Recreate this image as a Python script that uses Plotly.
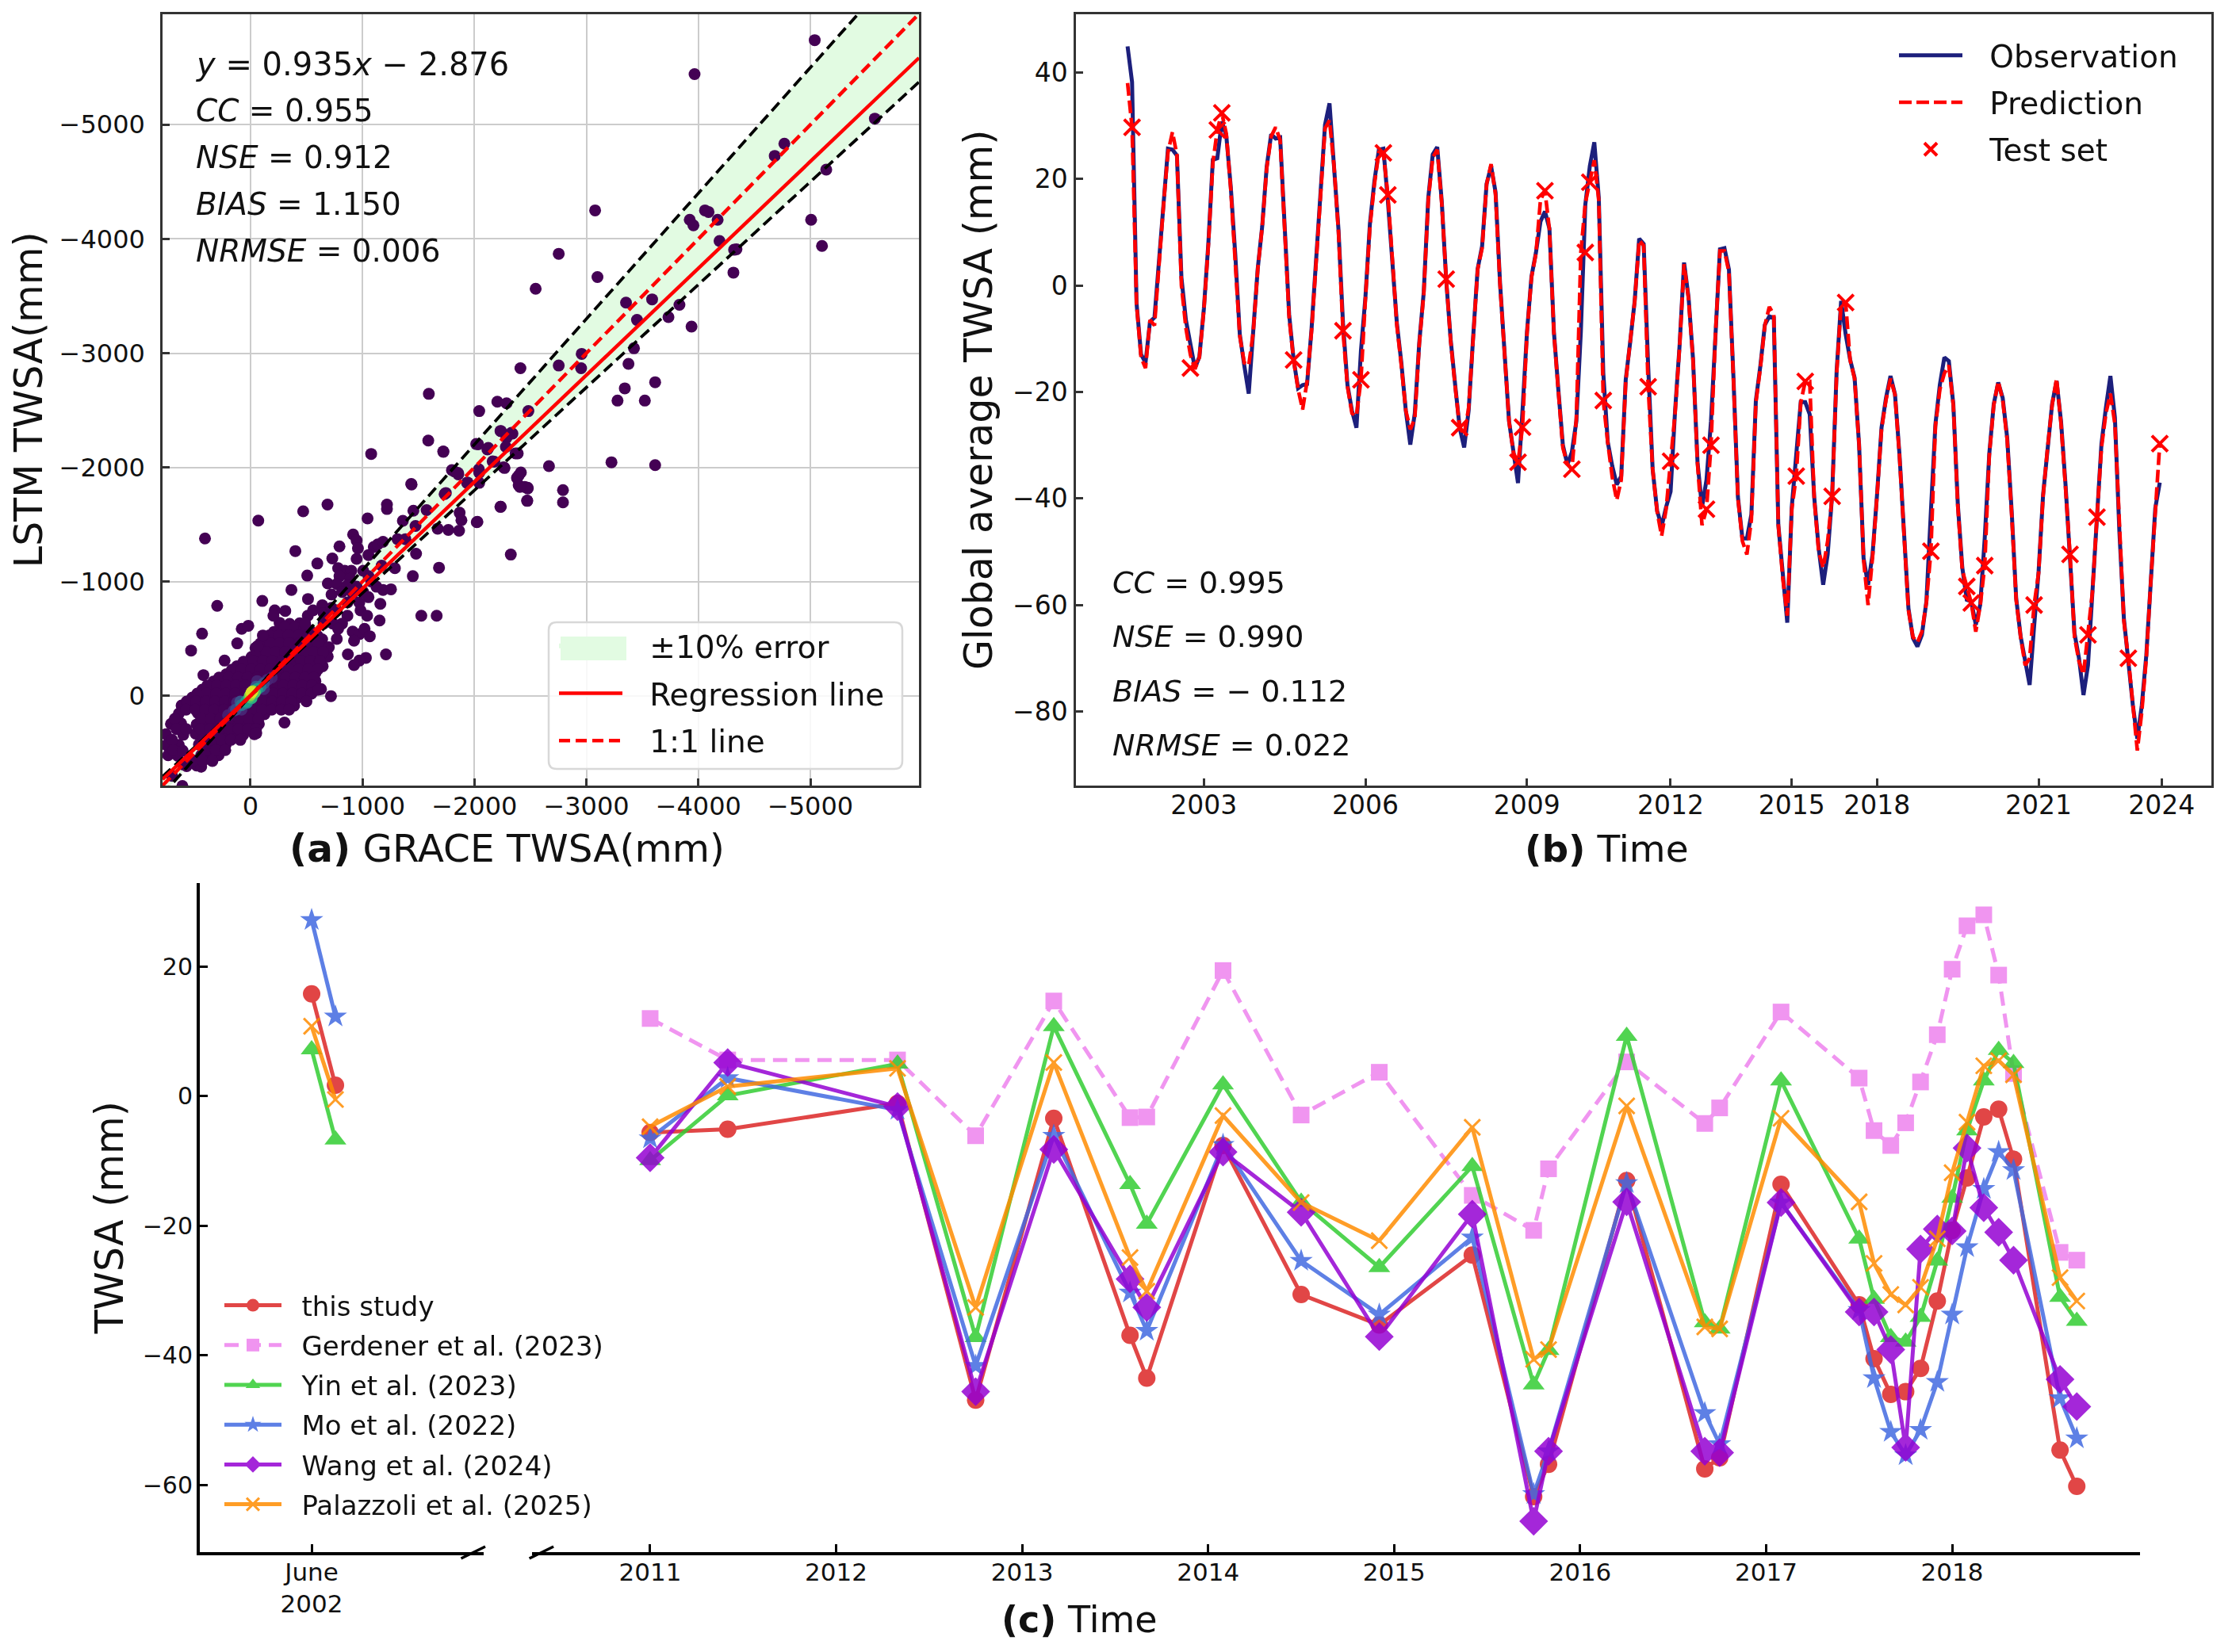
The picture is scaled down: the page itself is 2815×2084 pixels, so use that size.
import plotly.graph_objects as go

W, H = 2815, 2084
PAGE_MARGIN = 8  # the browser's default body margin shifts everything by this
FIG_W, FIG_H = W - 2 * PAGE_MARGIN, H - 2 * PAGE_MARGIN
FONT = "DejaVu Sans"
# wider gap between legend symbol and label, as in the original
LEG_PAD = "\u2002\u2005"
LEG_PAD_C = "\u2002\u200a"

# --- panel (a): GRACE vs LSTM scatter (mm) ---
a_ticks = [0, -1000, -2000, -3000, -4000, -5000]
a_limits = [785, -5970]
reg_slope, reg_icpt = 0.935, -2.876
a_stats = ["<i>y</i> = 0.935<i>x</i> − 2.876", "<i>CC</i> = 0.955", "<i>NSE</i> = 0.912",
           "<i>BIAS</i> = 1.150", "<i>NRMSE</i> = 0.006"]

sparse_pts = [
    (-5039, -5740), (-3966, -5443), (-5576, -5053), (-4768, -4834), (-4682, -4727), (-5142, -4606),
    (-3078, -4250), (-4059, -4250), (-4091, -4236), (-3923, -4168), (-3956, -4119), (-4172, -4168),
    (-5007, -4168), (-5104, -3939), (-2753, -3870), (-4189, -3982), (-4319, -3905), (-4340, -3909),
    (-4313, -3705), (-3099, -3666), (-2547, -3564), (-3354, -3442), (-3587, -3471), (-3831, -3423),
    (-3733, -3316), (-3452, -3291), (-3939, -3233), (-3425, -3043), (-2958, -2994), (-2953, -2868),
    (-2411, -2868), (-2753, -2892), (-3376, -2907), (-3614, -2746), (-3343, -2692), (-1593, -2644),
    (-3278, -2585), (-3522, -2585), (-2205, -2575), (-2287, -2561), (-2482, -2493), (-2043, -2493),
    (-1588, -2235), (-2016, -2205), (-2238, -2317), (-2330, -2303), (-2124, -2171), (-2368, -2123),
    (-1723, -2137), (-1078, -2118), (-2287, -2259), (-2666, -2011), (-3224, -2045), (-3614, -2020),
    (-1799, -1977), (-1853, -1952), (-2178, -2050), (-2260, -2001), (-2043, -1952), (-2395, -1928),
    (-2449, -1830), (-2476, -1816), (-2395, -1845), (-2791, -1801), (-2791, -1694), (-2471, -1709),
    (-1934, -1865), (-2043, -1865), (-1734, -1767), (-1436, -1855), (-2232, -1655), (-2027, -1524),
    (-2325, -1237), (-688, -1675), (-471, -1616), (-70, -1534), (406, -1378), (-1046, -1553),
    (-1219, -1675), (-1219, -1636), (-401, -1268), (-795, -1309), (-917, -1413), (-948, -1360),
    (-960, -1291), (-948, -1199), (-731, -1203), (-597, -1159), (-507, -1053), (-366, -928),
    (-106, -831), (297, -788), (-514, -848), (-1101, -1303), (-1137, -1326), (-1054, -1233),
    (-1184, -1349), (-1314, -1372), (-1361, -1533), (-1455, -1621), (-1573, -1626), (-1474, -1487),
    (-1384, -1372), (-1479, -1245), (-1290, -1118), (-1450, -1048), (-1684, -1122), (-1672, -1464),
    (-1767, -1453), (-1863, -1446), (-1868, -1603), (-1884, -1538), (-2021, -1520), (-2236, -1656),
    (-2472, -1707), (-2476, -1822), (-2406, -1829), (-2380, -1908), (-2415, -1956), (-1526, -702),
    (-1663, -702), (-1439, -1850), (-1722, -2139), (-1821, -1965), (-1856, -1938), (-1939, -1868),
    (-1745, -1776), (-2033, -2203), (-2040, -1984), (-2269, -1995), (-2116, -2157), (-2233, -2319),
    (-2340, -2296), (-2387, -2122), (-2163, -2053), (-2281, -2180),
    (-783, -1118), (-842, -1095), (-901, -1095), (-795, -1048), (-889, -1025), (-691, -984),
    (-771, -979), (-866, -968), (-724, -887), (-818, -910), (-913, -898), (-1007, -910),
    (-1078, -1002), (-1125, -956), (-1184, -928), (-1255, -933), (-1054, -864), (-1160, -806),
    (-972, -818), (-983, -748), (-1042, -702), (-1153, -660), (-642, -794), (-653, -725),
    (-724, -771), (-866, -702), (-818, -633), (-736, -633), (-783, -587), (-771, -499),
    (-913, -563), (-972, -540), (-1019, -587), (-1066, -522), (-925, -483), (-870, -363),
    (-1031, -333), (-972, -309), (-925, -270), (-1210, -363), (-1172, -1141), (-1007, -1095),
    (-1054, -1048), (-948, -956), (-866, -818), (-771, -748), (-653, -633), (-217, -748),
    (-311, -744), (-205, -702), (-512, -702), (-559, -748), (-488, -633),
    (231, -309), (420, -182), (432, -545), (530, -397), (118, -460), (78, -587), (19, -614),
    (-111, -529), (-64, -436), (-719, 2), (-500, 48), (-304, 233), (-606, -55), (-52, 326),
    (700, 700), (600, 600), (608, 788),
]

blob_pts = [
    (-260, -640), (-350, -630), (-440, -635),
    (-210, -560), (-295, -570), (-380, -560), (-470, -565), (-530, -575),
    (-125, -490), (-215, -500), (-300, -495), (-390, -490), (-475, -500), (-560, -490), (-640, -495),
    (-45, -420), (-130, -430), (-220, -425), (-305, -420), (-395, -430), (-480, -425), (-565, -420),
    (-650, -430), (-700, -425),
    (-10, -340), (-95, -350), (-180, -345), (-265, -340), (-350, -350), (-435, -345), (-520, -340),
    (-605, -350), (-690, -345),
    (120, -260), (35, -270), (-50, -265), (-135, -260), (-220, -270), (-305, -265), (-390, -260),
    (-475, -270), (-560, -265), (-645, -260),
    (215, -190), (130, -200), (45, -195), (-40, -190), (-125, -200), (-210, -195), (-295, -190),
    (-380, -200), (-465, -195), (-550, -190), (-580, -200),
    (330, -125), (245, -120), (160, -130), (75, -125), (-10, -120), (-95, -130), (-180, -125),
    (-265, -120), (-350, -130), (-435, -125), (-520, -120), (-580, -130),
    (430, -55), (345, -60), (260, -50), (175, -55), (90, -60), (5, -50), (-80, -55), (-165, -60),
    (-250, -50), (-335, -55), (-420, -60), (-505, -50), (-590, -55), (-630, -60),
    (520, 15), (435, 10), (350, 20), (265, 15), (180, 10), (95, 20), (10, 15), (-75, 10), (-160, 20),
    (-245, 15), (-330, 10), (-415, 20),
    (615, 85), (530, 80), (445, 90), (360, 85), (275, 80), (190, 90), (105, 85), (20, 80), (-65, 90),
    (-150, 85), (-235, 80), (-320, 90), (-390, 85),
    (640, 155), (470, 150), (385, 160), (300, 155), (215, 150), (130, 160), (45, 155), (-40, 150),
    (-125, 160),
    (710, 245), (620, 240), (480, 250), (395, 245), (310, 240), (225, 250), (140, 245), (55, 240),
    (-30, 250), (-75, 245),
    (755, 335), (600, 340), (490, 330), (405, 335), (320, 340), (235, 330), (150, 335), (65, 340),
    (-35, 335),
    (750, 430), (640, 430), (460, 425), (375, 435), (290, 430), (220, 425),
    (735, 520), (650, 525), (440, 520), (355, 525), (285, 520),
    (570, 615), (480, 610), (440, 620),
]

# points between the rows above, the cloud is solid there
blob_fill_pts = [
    (-305, -600), (-395, -600), (-480, -600),
    (-170, -530), (-255, -530), (-340, -530), (-430, -530), (-515, -530), (-600, -525),
    (-90, -460), (-175, -460), (-260, -460), (-345, -460), (-435, -460), (-520, -460), (-605, -460),
    (-55, -385), (-140, -385), (-225, -385), (-310, -385), (-395, -385), (-480, -385), (-565, -385), (-650, -385),
    (60, -300), (-25, -305), (-110, -305), (-195, -305), (-280, -305), (-365, -305), (-450, -305), (-535, -305),
    (-620, -305),
    (165, -230), (80, -230), (-5, -230), (-90, -230), (-175, -230), (-260, -230), (-345, -230), (-430, -230),
    (-515, -230), (-600, -230),
    (280, -160), (195, -160), (110, -160), (25, -160), (-60, -160), (-145, -160), (-230, -160), (-315, -160),
    (-400, -160), (-485, -160), (-565, -160),
    (385, -90), (300, -90), (215, -90), (130, -90), (45, -90), (-40, -90), (-125, -90), (-210, -90), (-295, -90),
    (-380, -90), (-465, -90), (-550, -90),
    (475, -20), (390, -20), (305, -20), (220, -20), (135, -20), (50, -20), (-35, -20), (-120, -20), (-205, -20),
    (-290, -20), (-375, -20), (-460, -20), (-545, -20),
    (570, 50), (485, 50), (400, 50), (315, 50), (230, 50), (145, 50), (60, 50), (-25, 50), (-110, 50), (-195, 50),
    (-280, 50), (-365, 50),
    (575, 120), (490, 120), (405, 120), (320, 120), (235, 120), (150, 120), (65, 120), (-20, 120), (-105, 120),
    (-190, 120), (-275, 120), (-345, 120),
    (675, 200), (440, 200), (355, 200), (270, 200), (185, 200), (100, 200), (15, 200), (-70, 200),
    (660, 290), (575, 290), (445, 290), (360, 290), (275, 290), (190, 290), (105, 290), (20, 290), (-50, 290),
    (700, 385), (430, 385), (345, 385), (260, 385), (175, 385), (90, 385),
    (395, 475), (310, 475), (225, 475), (690, 475), (605, 480),
    (510, 565), (425, 570), (340, 570),
]

# dense centre of the cloud: (grace, lstm, density), low density first
core_pts = [
    (200, 170, 0.08), (150, 130, 0.10), (-190, -160, 0.08), (-150, -140, 0.10), (120, 60, 0.09),
    (-60, -130, 0.09), (80, 120, 0.10), (-120, -60, 0.09),
    (130, 120, 0.22), (-120, -110, 0.22), (60, 70, 0.26), (-50, -80, 0.26), (90, 50, 0.25),
    (80, 80, 0.38), (-90, -80, 0.38), (30, 60, 0.42), (-30, -20, 0.45),
    (40, 50, 0.55), (-60, -60, 0.55), (-10, 20, 0.62),
    (10, 10, 0.72), (-40, -30, 0.72), (0, -10, 0.85), (-20, -40, 0.88), (-10, -30, 0.95),
]

# --- panel (b): monthly global mean, x is the sample number (gap months dropped) ---
b_tickvals = [17, 53, 89, 121, 148, 167, 203, 230.4]
b_ticktext = ["2003", "2006", "2009", "2012", "2015", "2018", "2021", "2024"]
b_yticks = [40, 20, 0, -20, -40, -60, -80]
b_stats = ["<i>CC</i> = 0.995", "<i>NSE</i> = 0.990", "<i>BIAS</i> = − 0.112", "<i>NRMSE</i> = 0.022"]

observation = [
    44.9, 38.2, -3.3, -12.9, -14.5, -6.8, -6.0, 5.2, 15.9, 25.7, 25.5, 24.4, 1.5, -6.5, -11.0, -15.5,
    -13.4, -4.4, 7.9, 23.6, 23.9, 30.8, 28.1, 18.5, 5.8, -9.1, -15.0, -20.3, -8.6, 3.1, 11.1, 22.3,
    28.4, 27.6, 27.8, 10.0, -5.4, -13.9, -19.3, -18.7, -18.5, -8.1, 5.2, 17.5, 30.2, 34.2, 22.8, 10.5,
    -7.0, -18.7, -23.5, -26.7, -12.3, -2.2, 11.6, 19.6, 25.5, 25.7, 15.9, 5.2, -7.0, -14.5, -23.5, -29.9,
    -24.0, -10.7, -1.2, 16.4, 24.6, 26.0, 15.9, 1.0, -10.2, -18.7, -26.7, -30.4, -23.5, -9.7, 3.1, 7.4,
    19.1, 22.4, 17.5, 0.4, -13.8, -25.5, -31.3, -37.1, -23.5, -8.7, 1.7, 6.2, 12.0, 13.9, 10.7, -8.7,
    -19.7, -30.0, -33.6, -31.3, -25.5, -8.7, 15.2, 22.4, 26.9, 16.5, -16.4, -29.4, -33.9, -37.4, -35.8, -17.7,
    -10.6, -2.9, 8.8, 7.8, -15.1, -34.5, -42.3, -45.2, -41.6, -38.7, -23.5, -11.3, 4.3, -2.2, -13.8, -33.2,
    -41.6, -36.5, -25.5, -8.7, 6.8, 7.0, 3.0, -17.1, -39.7, -47.5, -47.5, -43.0, -21.6, -15.1, -7.4, -5.8,
    -6.1, -44.9, -54.6, -63.3, -41.6, -30.7, -21.9, -21.9, -24.2, -39.7, -49.4, -56.2, -50.5, -39.3, -16.0, -2.9,
    -9.1, -13.9, -17.3, -29.9, -51.2, -56.2, -50.5, -39.3, -26.7, -21.1, -17.0, -20.4, -31.7, -46.2, -60.6, -66.2,
    -67.8, -65.6, -59.3, -42.4, -26.1, -18.6, -13.5, -14.2, -22.3, -41.1, -53.0, -59.0, -59.3, -63.7, -59.9, -47.4,
    -31.7, -22.3, -18.2, -21.1, -28.6, -42.4, -58.7, -65.9, -70.0, -75.0, -64.0, -53.7, -39.3, -30.2, -22.3, -17.9,
    -25.5, -37.4, -52.4, -65.3, -70.0, -76.9, -71.3, -57.5, -41.1, -29.8, -22.9, -17.0, -24.8, -46.2, -62.5, -71.3,
    -78.8, -85.1, -78.8, -69.4, -55.6, -41.8, -37.0,
]
prediction = [
    38.0, 29.7, -3.5, -13.5, -15.5, -6.5, -7.5, 5.0, 15.0, 25.0, 28.8, 24.5, 0.0, -8.0, -13.0, -15.7,
    -13.5, -4.6, 7.5, 23.0, 29.2, 32.4, 28.5, 18.0, 5.5, -9.5, -14.5, -15.0, -8.8, 3.0, 11.0, 22.0,
    28.0, 29.7, 27.3, 9.5, -6.0, -14.0, -19.5, -23.3, -18.0, -8.5, 5.0, 17.0, 29.5, 31.0, 22.5, 10.0,
    -8.5, -19.0, -24.0, -24.5, -17.7, -2.5, 11.0, 19.0, 25.0, 24.9, 17.0, 5.0, -7.5, -15.0, -23.5, -27.0,
    -25.0, -11.0, -1.5, 16.0, 24.0, 25.5, 15.5, 1.2, -10.5, -19.0, -26.7, -28.0, -23.0, -10.0, 3.0, 7.0,
    19.0, 22.8, 17.0, 0.0, -14.0, -25.5, -31.5, -33.2, -26.6, -9.0, 1.5, 6.0, 16.0, 17.8, 10.5, -9.0,
    -20.0, -30.5, -33.5, -34.5, -25.0, 6.2, 15.5, 19.4, 23.5, 16.0, -21.6, -29.5, -36.0, -40.3, -36.5, -18.0,
    -11.0, -3.0, 8.5, 7.5, -19.0, -34.5, -42.5, -47.0, -42.0, -33.0, -24.0, -11.5, 4.0, -2.5, -14.0, -33.5,
    -45.0, -42.0, -30.0, -9.0, 6.5, 6.5, 2.5, -17.5, -40.0, -48.0, -50.5, -44.0, -22.0, -15.5, -7.5, -4.0,
    -5.5, -45.0, -55.0, -62.0, -42.0, -35.8, -22.0, -18.0, -18.0, -40.0, -50.0, -53.0, -48.0, -39.6, -16.5, -3.5,
    -3.2, -14.0, -17.5, -30.0, -51.5, -60.0, -51.0, -39.5, -27.0, -21.5, -17.5, -20.5, -32.0, -46.5, -61.0, -66.0,
    -67.0, -65.0, -59.5, -49.9, -26.5, -19.5, -16.5, -15.0, -22.5, -41.5, -53.5, -56.5, -59.6, -65.0, -60.0, -52.6,
    -32.0, -22.5, -18.0, -21.5, -29.0, -43.0, -59.0, -66.0, -71.3, -70.0, -60.0, -54.0, -39.5, -30.5, -22.5, -17.5,
    -26.0, -38.0, -50.5, -66.0, -70.6, -73.0, -65.6, -57.5, -43.5, -30.5, -24.0, -20.3, -26.0, -46.5, -63.0, -70.0,
    -78.5, -87.3, -80.0, -70.0, -55.5, -42.5, -29.7,
]
test_idx = [1, 14, 20, 21, 37, 48, 52, 57, 58, 71, 74, 87, 88, 93, 99, 102, 103, 106, 116, 121, 129, 130,
            149, 151, 157, 160, 179, 187, 188, 191, 202, 210, 214, 216, 223, 230]
test_val = [29.7, -15.5, 29.2, 32.4, -14.0, -8.5, -17.7, 24.9, 17.0, 1.2, -26.7, -33.2, -26.6, 17.8, -34.5,
            6.2, 19.4, -21.6, -19.0, -33.0, -42.0, -30.0, -35.8, -18.0, -39.6, -3.2, -49.9, -56.5, -59.6,
            -52.6, -60.0, -50.5, -65.6, -43.5, -70.0, -29.7]

# --- panel (c): TWSA from each study, left stub is June 2002, the rest after the axis break ---
c_yticks = [20, 0, -20, -40, -60]
c_years = [2011, 2012, 2013, 2014, 2015, 2016, 2017, 2018]
t_2002 = [0, 1]
t_later = [2011.0, 2011.417, 2012.33, 2012.75, 2013.17, 2013.58, 2013.67, 2014.08, 2014.5, 2014.92,
           2015.42, 2015.75, 2015.83, 2016.25, 2016.67, 2016.75, 2017.08, 2017.5, 2017.58, 2017.67,
           2017.75, 2017.83, 2017.92, 2018.0, 2018.08, 2018.17, 2018.25, 2018.33, 2018.58, 2018.67]

this_study_2002 = [15.8, 1.7]
this_study = [-5.6, -5.1, -1.1, -46.9, -3.4, -36.9, -43.5, -7.6, -30.6, -35.3, -24.5, -61.8, -56.8, -13.0, -57.5,
              -55.8, -13.6, -32.2, -40.5, -46.0, -45.6, -42.0, -31.6, -20.7, -12.6, -3.2, -2.0, -9.7, -54.6, -60.2]
gerdener = [12.0, 5.6, 5.6, -6.1, 14.7, -3.3, -3.2, 19.4, -2.9, 3.7, -15.3, -20.7, -11.2, 5.3, -4.2,
            -1.8, 13.0, 2.8, -5.3, -7.6, -4.1, 2.2, 9.5, 19.6, 26.3, 28.0, 18.7, 3.5, -24.1, -25.3]
yin_2002 = [7.2, -6.7]
yin = [-9.9, 0.1, 5.0, -37.2, 10.8, -13.6, -19.7, 1.8, -16.3, -26.4, -10.8, -44.5, -39.2, 9.3, -34.9,
       -35.9, 2.4, -22.0, -31.3, -37.2, -37.9, -34.1, -25.4, -15.7, -5.3, 2.4, 7.1, 5.1, -31.0, -34.7]
mo_2002 = [27.2, 12.3]
mo = [-6.5, 2.8, -2.1, -41.6, -6.1, -30.3, -36.2, -7.5, -25.4, -33.7, -21.8, -61.4, -54.8, -13.4, -48.9,
      -53.7, -16.4, -33.0, -43.5, -51.8, -55.4, -51.5, -44.1, -33.7, -23.3, -14.3, -8.6, -11.4, -46.6, -52.8]
wang = [-9.5, 5.2, -1.6, -45.6, -8.2, -28.2, -32.6, -8.6, -17.9, -37.1, -18.2, -65.6, -54.8, -16.3, -54.8,
        -55.0, -16.4, -33.3, -33.3, -39.1, -54.2, -23.6, -20.5, -20.8, -8.0, -17.2, -21.0, -25.3, -43.7, -47.9]
palazzoli_2002 = [10.8, -0.5]
palazzoli = [-4.7, 1.5, 4.3, -32.6, 5.2, -24.9, -30.1, -3.0, -16.4, -22.3, -4.8, -40.6, -39.1, -1.5, -35.6,
             -35.9, -3.4, -16.3, -25.8, -30.6, -32.2, -29.5, -22.0, -11.8, -4.0, 4.7, 5.5, 3.3, -28.0, -31.6]


def px(x):
    return (x - PAGE_MARGIN) / FIG_W


def py(y):
    return 1 - (y - PAGE_MARGIN) / FIG_H


fig = go.Figure()

# panel (a)
band_x = [a_limits[0], a_limits[1], a_limits[1], a_limits[0], a_limits[0]]
band_y = [1.1 * a_limits[0], 1.1 * a_limits[1], 0.9 * a_limits[1], 0.9 * a_limits[0], 1.1 * a_limits[0]]
fig.add_trace(go.Scatter(x=band_x, y=band_y, fill="toself", fillcolor="#e2fbe2", mode="none",
                         name=LEG_PAD + "±10% error", xaxis="x", yaxis="y", legend="legend", legendgroup="band"))

solid_pts = blob_pts + blob_fill_pts + sparse_pts
cloud_x = [p[0] for p in solid_pts] + [p[0] for p in core_pts]
cloud_y = [p[1] for p in solid_pts] + [p[1] for p in core_pts]
cloud_c = [0.0] * len(solid_pts) + [p[2] for p in core_pts]
fig.add_trace(go.Scatter(x=cloud_x, y=cloud_y, mode="markers", showlegend=False, xaxis="x", yaxis="y",
                         marker=dict(size=15, color=cloud_c, colorscale="Viridis", cmin=0, cmax=1)))

for factor in [1.1, 0.9]:
    fig.add_trace(go.Scatter(x=a_limits, y=[factor * v for v in a_limits], mode="lines", showlegend=False,
                             line=dict(color="black", width=3.8, dash="14px,7px"), xaxis="x", yaxis="y"))
fig.add_trace(go.Scatter(x=a_limits, y=[reg_slope * v + reg_icpt for v in a_limits], mode="lines",
                         name=LEG_PAD + "Regression line", line=dict(color="red", width=4.5), xaxis="x", yaxis="y",
                         legend="legend", legendgroup="reg"))
fig.add_trace(go.Scatter(x=a_limits, y=a_limits, mode="lines", name=LEG_PAD + "1:1 line",
                         line=dict(color="red", width=4.5, dash="14px,7px"), xaxis="x", yaxis="y",
                         legend="legend", legendgroup="one"))

# panel (b)
idx = list(range(len(observation)))
fig.add_trace(go.Scatter(x=idx, y=observation, mode="lines", name=LEG_PAD + "Observation", xaxis="x2", yaxis="y2",
                         line=dict(color="#1c1f7c", width=5), legend="legend2", legendgroup="obs"))
fig.add_trace(go.Scatter(x=idx, y=prediction, mode="lines", name=LEG_PAD + "Prediction", xaxis="x2", yaxis="y2",
                         line=dict(color="red", width=4.6, dash="16px,6px"), legend="legend2", legendgroup="pred"))
fig.add_trace(go.Scatter(x=test_idx, y=test_val, mode="markers", name=LEG_PAD + "Test set", xaxis="x2", yaxis="y2",
                         marker=dict(symbol="x-thin", size=20, color="red", line=dict(color="red", width=4)),
                         legend="legend2", legendgroup="test"))

# panel (c)
studies = [
    ("this study", this_study, this_study_2002, "#dc2626", "circle", 22, "solid", None),
    ("Gerdener et al. (2023)", gerdener, None, "#ee82ee", "square", 21, "18px,10px", None),
    ("Yin et al. (2023)", yin, yin_2002, "#32cd32", "triangle-up", 24, "solid", None),
    ("Mo et al. (2022)", mo, mo_2002, "#4169e1", "star", 22, "solid", None),
    ("Wang et al. (2024)", wang, None, "#9400d3", "diamond", 28, "solid", None),
    ("Palazzoli et al. (2025)", palazzoli, palazzoli_2002, "#ff8c00", "x-thin", 20, "solid", 3),
]
for name, later, early, color, symbol, size, dash, mlw in studies:
    marker = dict(symbol=symbol, size=size, color=color)
    if mlw:
        marker["line"] = dict(color=color, width=mlw)
    line = dict(color=color, width=5, dash=dash)
    fig.add_trace(go.Scatter(x=t_later, y=later, mode="lines+markers", name=LEG_PAD_C + name, xaxis="x4", yaxis="y3",
                             line=line, marker=marker, opacity=0.85, legend="legend3", legendgroup=name))
    if early:
        fig.add_trace(go.Scatter(x=t_2002, y=early, mode="lines+markers", name=name, xaxis="x3", yaxis="y3",
                                 line=line, marker=marker, opacity=0.85, showlegend=False, legendgroup=name))

frame = dict(showline=True, linecolor="#333333", linewidth=2.5, mirror=True, ticks="inside", ticklen=9,
             tickwidth=2.5, tickcolor="#333333", zeroline=False, showgrid=False)

fig.update_layout(
    width=FIG_W, height=FIG_H, margin=dict(l=0, r=0, t=0, b=0), paper_bgcolor="white", plot_bgcolor="white",
    font=dict(family=FONT, color="#111111"),
    xaxis=dict(frame, domain=[px(205), px(1159)], range=a_limits, tickvals=a_ticks, anchor="y",
               showgrid=True, gridcolor="#cccccc", gridwidth=2.2, tickfont=dict(size=32), ticklabelstandoff=-4),
    yaxis=dict(frame, domain=[py(991), py(17.5)], range=a_limits, tickvals=a_ticks, anchor="x",
               showgrid=True, gridcolor="#cccccc", gridwidth=2.2, tickfont=dict(size=32), ticklabelstandoff=13,
               title=dict(text="LSTM TWSA(mm)", font=dict(size=49), standoff=10)),
    xaxis2=dict(frame, domain=[px(1357), px(2789)], range=[-11.5, 241.5], tickvals=b_tickvals,
                ticktext=b_ticktext, anchor="y2", tickfont=dict(size=33), ticklabelstandoff=-6),
    yaxis2=dict(frame, domain=[py(991), py(17.5)], range=[-93.9, 51], tickvals=b_yticks, anchor="x2",
                tickfont=dict(size=33), ticklabelstandoff=1,
                title=dict(text="Global average TWSA (mm)", font=dict(size=49), standoff=10)),
    xaxis3=dict(domain=[px(252), px(610)], range=[-4.7, 7.23], tickvals=[0], ticktext=["June<br>2002"],
                anchor="y3", showline=True, linecolor="black", linewidth=4, ticks="inside", ticklen=10,
                tickwidth=2.5, tickcolor="black", showgrid=False, zeroline=False, tickfont=dict(size=31),
                ticklabelstandoff=-5),
    xaxis4=dict(domain=[px(671), px(2699)], range=[2010.365, 2019.01], tickvals=c_years,
                tickformat="d", anchor="y3", showline=True, linecolor="black", linewidth=4, ticks="inside",
                ticklen=10, tickwidth=2.5, tickcolor="black", showgrid=False, zeroline=False,
                tickfont=dict(size=31), ticklabelstandoff=-5),
    yaxis3=dict(domain=[py(1957.5), py(1114)], range=[-70.3, 32.9], tickvals=c_yticks, anchor="x3",
                showline=True, linecolor="black", linewidth=4, ticks="inside", ticklen=10, tickwidth=2.5,
                tickcolor="black", showgrid=False, zeroline=False, tickfont=dict(size=30), ticklabelstandoff=-1,
                title=dict(text="TWSA (mm)", font=dict(size=49), standoff=10)),
    legend=dict(x=px(700), y=py(783), xanchor="left", yanchor="top", bgcolor="rgba(0,0,0,0)",
                font=dict(size=39), itemwidth=80, tracegroupgap=6, traceorder="grouped"),
    legend2=dict(x=px(2390), y=py(38), xanchor="left", yanchor="top", bgcolor="rgba(0,0,0,0)",
                 font=dict(size=39), itemwidth=80, tracegroupgap=5.5, traceorder="grouped"),
    legend3=dict(x=px(278), y=py(1618), xanchor="left", yanchor="top", bgcolor="rgba(0,0,0,0)",
                 font=dict(size=34), itemwidth=72, tracegroupgap=3, traceorder="grouped"),
)


def paper_box(x0, x1, y0, y1):
    return px(x0), px(x1), py(y0), py(y1)


# rounded legend frame of panel (a)
x0, x1, y0, y1 = paper_box(692, 1138, 785, 970)
rx, ry = 10 / FIG_W, 10 / FIG_H
fig.add_shape(type="path", xref="paper", yref="paper", layer="above",
              path=(f"M {x0 + rx} {y0} L {x1 - rx} {y0} Q {x1} {y0} {x1} {y0 - ry} L {x1} {y1 + ry} "
                    f"Q {x1} {y1} {x1 - rx} {y1} L {x0 + rx} {y1} Q {x0} {y1} {x0} {y1 + ry} "
                    f"L {x0} {y0 - ry} Q {x0} {y0} {x0 + rx} {y0} Z"),
              fillcolor="rgba(255,255,255,0.85)", line=dict(color="#d8d8d8", width=2.5))
# matplotlib's fill patch in the legend is taller than the one plotly draws
x0, x1, y0, y1 = paper_box(707, 790, 803, 833)
fig.add_shape(type="rect", xref="paper", yref="paper", layer="above", x0=x0, x1=x1, y0=y0, y1=y1,
              fillcolor="#e2fbe2", line=dict(width=0))

# axis break marks of panel (c)
for bx in [581.5, 667.6]:
    fig.add_shape(type="line", xref="paper", yref="paper", x0=px(bx), x1=px(bx + 30.5), y0=py(1966), y1=py(1951),
                  line=dict(color="black", width=3.5))

stat_y_a = [81, 140, 199, 258, 316]
stat_size_a = [40, 39, 39, 39, 39]
for text, yy, size in zip(a_stats, stat_y_a, stat_size_a):
    fig.add_annotation(text=text, xref="paper", yref="paper", x=px(245), y=py(yy), xanchor="left",
                       yanchor="middle", showarrow=False, font=dict(size=size))
stat_y_b = [735, 803, 872, 940]
for text, yy in zip(b_stats, stat_y_b):
    fig.add_annotation(text=text, xref="paper", yref="paper", x=px(1401), y=py(yy), xanchor="left",
                       yanchor="middle", showarrow=False, font=dict(size=38))

xlabels = [("<b>(a)</b> GRACE TWSA(mm)", 639, 1070, 48.5), ("<b>(b)</b> Time", 2026, 1070, 47),
           ("<b>(c)</b> Time", 1361, 2043, 46)]
for text, xx, yy, size in xlabels:
    fig.add_annotation(text=text, xref="paper", yref="paper", x=px(xx), y=py(yy), xanchor="center",
                       yanchor="middle", showarrow=False, font=dict(size=size))

fig.write_html("out.html")
